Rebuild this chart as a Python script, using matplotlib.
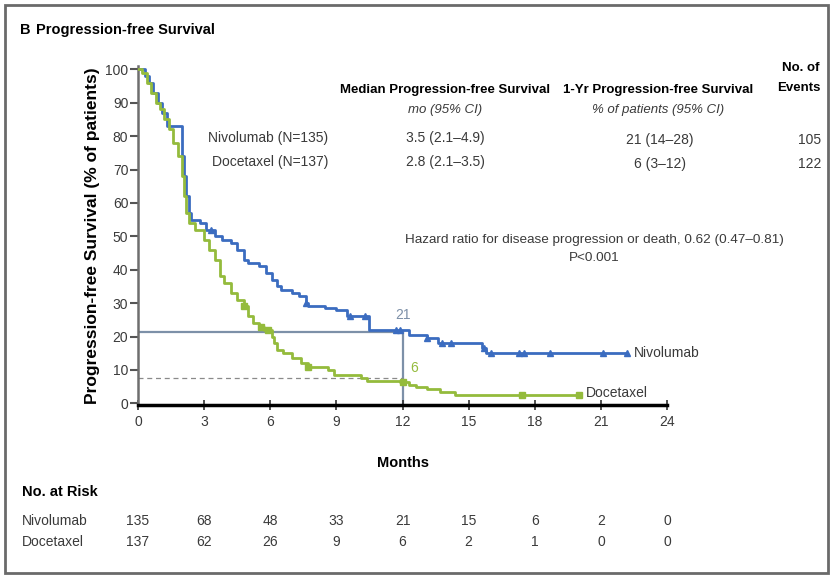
import numpy as np
import matplotlib
matplotlib.use("Agg")
import matplotlib.pyplot as plt
from matplotlib.patches import Rectangle
from matplotlib.transforms import blended_transform_factory

plt.rcParams["font.family"] = ["Liberation Sans", "DejaVu Sans"]

# Kaplan-Meier step points (months, % progression-free)
nivo_t = [0, 0.3, 0.5, 0.7, 0.9, 1.1, 1.3, 2.0, 2.1, 2.2, 2.3, 2.4, 2.8, 3.1, 3.5, 3.8,
          4.2, 4.5, 4.8, 5.0, 5.5, 5.8, 6.1, 6.3, 6.5, 7.0, 7.3, 7.6, 7.7, 8.5, 9.0,
          9.5, 10.5, 12.3, 13.1, 13.6, 15.6, 15.8, 22.2]
nivo_s = [100, 98, 96, 93, 90, 87, 83, 74, 68, 62, 57, 55, 54, 52, 50, 49,
          48, 46, 43, 42, 41, 39, 37, 35, 34, 33, 32, 30, 29, 28.5, 28,
          26, 22, 20.5, 19.5, 18, 16.5, 15.2, 15.2]
nivo_cens = [3.3, 7.6, 9.6, 10.3, 11.7, 11.9, 13.1, 13.8, 14.2, 15.7, 16.0,
             17.3, 17.5, 18.7, 21.1, 22.2]

doce_t = [0, 0.2, 0.4, 0.6, 0.8, 1.0, 1.2, 1.4, 1.6, 1.8, 2.0, 2.1, 2.2, 2.3, 2.6,
          3.0, 3.2, 3.5, 3.7, 3.9, 4.2, 4.5, 4.8, 5.0, 5.2, 5.5, 5.7, 6.1, 6.15,
          6.3, 6.6, 7.0, 7.4, 7.7, 8.6, 8.9, 10.1, 10.4, 11.9, 12.3, 12.6, 13.1,
          13.7, 14.4, 20.05]
doce_s = [100, 99, 96, 93, 90, 88, 85, 82, 78, 74, 68, 62, 57, 54, 52,
          49, 46, 43, 38, 36, 33, 31, 29, 26, 24, 23, 22, 20, 18,
          16, 15, 13.5, 12, 11, 10, 8.4, 7.5, 6.8, 6.4, 5.5, 5, 4.4,
          3.5, 2.5, 2.5]
doce_cens = [4.8, 5.6, 5.9, 7.7, 12.0, 17.4, 20.0]

ref_12mo_nivo = 21.5
ref_12mo_doce = 7.7

risk_months = [0, 3, 6, 9, 12, 15, 18, 21, 24]
risk_nivo = [135, 68, 48, 33, 21, 15, 6, 2, 0]
risk_doce = [137, 62, 26, 9, 6, 2, 1, 0, 0]

BLUE = "#3b6cc0"
GREEN = "#94bb3c"
REF = "#7d90a8"
TXT = "#3a3a3a"


def at(times, surv, t):
    i = np.searchsorted(times, t, side="right") - 1
    return np.asarray(surv)[i]


fig = plt.figure(figsize=(8.33, 5.77), dpi=100)
ax = fig.add_axes([138 / 833, 1 - 405 / 577, 529 / 833, 339 / 577])

ax.plot([0, 12], [ref_12mo_nivo, ref_12mo_nivo], color=REF, lw=1.6, zorder=1)
ax.plot([12, 12], [0, ref_12mo_nivo], color=REF, lw=1.6, zorder=1)
ax.plot([0, 12], [ref_12mo_doce, ref_12mo_doce], color="#8a8a8a", lw=0.9,
        ls=(0, (4, 3)), zorder=1)

ax.step(nivo_t, nivo_s, where="post", color=BLUE, lw=2, zorder=2)
ax.step(doce_t, doce_s, where="post", color=GREEN, lw=2, zorder=3)
ax.plot(nivo_cens, [at(nivo_t, nivo_s, t) for t in nivo_cens], ls="none",
        marker="^", ms=5, color=BLUE, zorder=4)
ax.plot(doce_cens, [at(doce_t, doce_s, t) for t in doce_cens], ls="none",
        marker="s", ms=4, color=GREEN, zorder=4)

ax.set_xlim(0, 24)
ax.set_ylim(-0.5, 101)
ax.set_xticks(range(0, 25, 3))
ax.set_yticks(range(0, 101, 10))
for s in ("top", "right"):
    ax.spines[s].set_visible(False)
ax.spines["left"].set_color("#6e6e6e")
ax.spines["left"].set_linewidth(1.8)
ax.spines["bottom"].set_color("black")
ax.spines["bottom"].set_linewidth(2.5)
ax.tick_params(axis="y", direction="out", length=6, width=1.5, color="#555555",
               labelsize=10, labelcolor=TXT, pad=1)
ax.tick_params(axis="x", direction="inout", length=7, width=1.2, color="#333333",
               labelsize=10, labelcolor=TXT, pad=4)

ax.set_xlabel("Months", fontsize=10.5, fontweight="bold", labelpad=19)
ax.set_ylabel("Progression-free Survival (% of patients)", fontsize=12.5,
              fontweight="bold", labelpad=4)

ax.text(12, 24.5, "21", color=REF, fontsize=10, ha="center", va="bottom")
ax.text(12.35, 8.5, "6", color=GREEN, fontsize=10, ha="left", va="bottom")
ax.text(22.5, 15.2, "Nivolumab", color=TXT, fontsize=10, va="center")
ax.text(20.3, 3.0, "Docetaxel", color=TXT, fontsize=10, va="center")

# header and summary table in figure pixels
W, H = 833, 577


def ftext(x, y, s, **kw):
    fig.text(x / W, 1 - y / H, s, **kw)


ftext(20, 30, "B", fontsize=10.5, fontweight="bold", va="center")
ftext(36, 30, "Progression-free Survival", fontsize=10.5, fontweight="bold", va="center")

ftext(445, 90, "Median Progression-free Survival", fontsize=9.5, fontweight="bold",
      ha="center", va="center")
ftext(445, 110, "mo (95% CI)", fontsize=9.5, style="italic", ha="center", va="center",
      color=TXT)
ftext(658, 90, "1-Yr Progression-free Survival", fontsize=9.5, fontweight="bold",
      ha="center", va="center")
ftext(658, 110, "% of patients (95% CI)", fontsize=9.5, style="italic",
      ha="center", va="center", color=TXT)
ftext(820, 68, "No. of", fontsize=9.5, fontweight="bold", ha="right", va="center")
ftext(820, 88, "Events", fontsize=9.5, fontweight="bold", ha="right", va="center")

rows = [("Nivolumab (N=135)", "3.5 (2.1\u20134.9)", "21 (14\u201328)", "105"),
        ("Docetaxel (N=137)", "2.8 (2.1\u20133.5)", "6 (3\u201312)", "122")]
for k, (name, med, yr, ev) in enumerate(rows):
    y = 138 + 24 * k
    ftext(328, y, name, fontsize=10, ha="right", va="center", color=TXT)
    ftext(445, y, med, fontsize=10, ha="center", va="center", color=TXT)
    ftext(660, y + 2, yr, fontsize=10, ha="center", va="center", color=TXT)
    ftext(810, y + 2, ev, fontsize=10, ha="center", va="center", color=TXT)

ftext(594, 240, "Hazard ratio for disease progression or death, 0.62 (0.47\u20130.81)",
      fontsize=9.7, ha="center", va="center", color=TXT)
ftext(594, 258, "P<0.001", fontsize=9.7, ha="center", va="center", color=TXT)

# number at risk
ftext(22, 492, "No. at Risk", fontsize=10.5, fontweight="bold", va="center")
ftext(22, 521, "Nivolumab", fontsize=10, va="center", color=TXT)
ftext(22, 542, "Docetaxel", fontsize=10, va="center", color=TXT)
tr = blended_transform_factory(ax.transData, fig.transFigure)
for m, a, b in zip(risk_months, risk_nivo, risk_doce):
    ax.text(m, 1 - 521 / H, str(a), transform=tr, ha="center", va="center",
            fontsize=10, color=TXT)
    ax.text(m, 1 - 542 / H, str(b), transform=tr, ha="center", va="center",
            fontsize=10, color=TXT)

fig.patches.append(Rectangle((5 / W, 4 / H), 823 / W, 568 / H, transform=fig.transFigure,
                             fill=False, edgecolor="#6a6a6a", lw=2))

fig.savefig("out.png", dpi=100, facecolor="white")
